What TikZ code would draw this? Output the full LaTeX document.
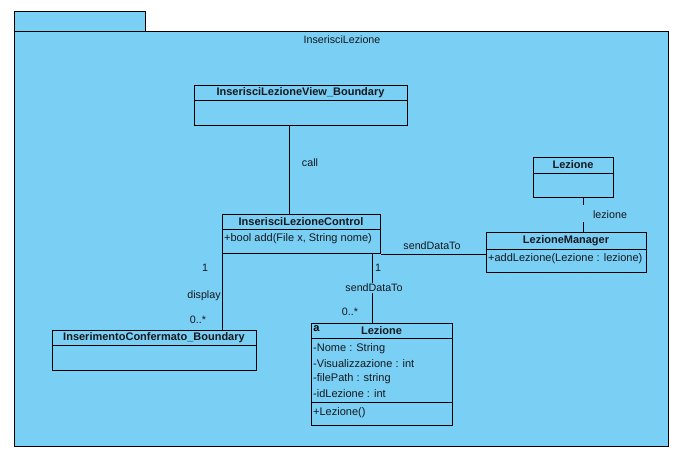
\documentclass[tikz,border=0pt]{standalone}
\usepackage{fontspec}
\setmainfont{Liberation Sans}
\definecolor{pkgblue}{RGB}{122,207,244}
\definecolor{ink}{RGB}{20,24,30}
\tikzset{
  frame/.style={draw=black, fill=pkgblue, line width=1pt},
  cls/.style={draw=black, fill=pkgblue, line width=1pt, rectangle, inner sep=0pt, anchor=north west},
  head/.style={font=\fontsize{11}{13}\selectfont\bfseries, text=ink, inner sep=0pt},
  member/.style={font=\fontsize{11}{13}\selectfont, text=ink, inner sep=0pt, anchor=west},
  lbl/.style={font=\fontsize{10.7}{12}\selectfont, text=ink, inner sep=1pt},
  assoc/.style={draw=black, line width=1pt},
}
% \classbox{name}{left}{top}{right}{bottom}
\newcommand{\classbox}[5]{%
  \node[cls, minimum width=#4-#2, minimum height=#5-#3] (#1) at (#2,#3) {};}
% \divider{name}{y}
\newcommand{\divider}[2]{%
  \draw[line width=1pt] (#1.west |- 0,#2) -- (#1.east |- 0,#2);}
\begin{document}
\begin{tikzpicture}[x=1pt, y=-1pt]
\useasboundingbox (0,0) rectangle (677,453);

% package frame with tab
\draw[frame] (14,11) rectangle (145,31);
\draw[frame] (14,31) rectangle (668,446);
\node[lbl] (pkgname) at (342,40) {InserisciLezione};

% InserisciLezioneView_Boundary
\classbox{view}{194}{85}{407}{125}
\divider{view}{100}
\node[head] at (300.5,92.5) {InserisciLezioneView\_Boundary};

% InserisciLezioneControl
\classbox{ctrl}{222}{214}{380}{253}
\divider{ctrl}{229}
\node[head] at (301,221.5) {InserisciLezioneControl};
\node[member] at (224,238.5) {+bool add(File x, String nome)};

% Lezione (top right)
\classbox{lztop}{533}{157}{613}{197}
\divider{lztop}{173}
\node[head] at (573,165) {Lezione};

% LezioneManager
\classbox{mgr}{486}{232}{646}{272}
\divider{mgr}{249}
\node[head] at (566,240.5) {LezioneManager};
\node[member] at (488,258.5) {+addLezione(Lezione : lezione)};

% InserimentoConfermato_Boundary
\classbox{conf}{52}{330}{256}{370}
\divider{conf}{345}
\node[head] at (154,337.5) {InserimentoConfermato\_Boundary};

% Lezione (entity)
\classbox{lez}{311}{323}{452}{425}
\divider{lez}{338}
\divider{lez}{402}
\node[head] at (381.5,330.5) {Lezione};
\node[font=\fontsize{11}{12}\selectfont\bfseries, inner sep=0pt] (icon) at (316.5,328.5) {a};
\node[member] at (313,348.5) {-Nome : String};
\node[member] at (313,363.5) {-Visualizzazione : int};
\node[member] at (313,378.5) {-filePath : string};
\node[member] at (313,393.5) {-idLezione : int};
\node[member] at (313,413) {+Lezione()};

% connectors
\draw[assoc] (view.south -| 289,0) -- (ctrl.north -| 289,0);
\node[lbl] (callLbl) at (310,163) {call};

\draw[assoc] (ctrl.south west) -- (ctrl.south west |- conf.north);
\node[lbl] at (205,268) {1};
\node[lbl] at (204,296) {display};
\node[lbl] at (198,320) {0..*};

\coordinate (cb) at ([xshift=-9pt]ctrl.south east);
\draw[assoc] (cb) -- (cb |- lez.north);
\node[lbl] at (378,268) {1};
\node[lbl, fill=pkgblue] at (374,288) {sendDataTo};
\node[lbl] at (350,312) {0..*};

\draw[assoc] (ctrl.south east) -- (ctrl.south east -| mgr.west);
\node[lbl] at (432,246) {sendDataTo};

\coordinate (g1) at (583,205);
\coordinate (g2) at (583,222);
\draw[assoc] (lztop.south -| g1) -- (g1);
\draw[assoc] (g2) -- (mgr.north -| g2);
\node[lbl] at (610,215) {lezione};
\end{tikzpicture}
\end{document}
